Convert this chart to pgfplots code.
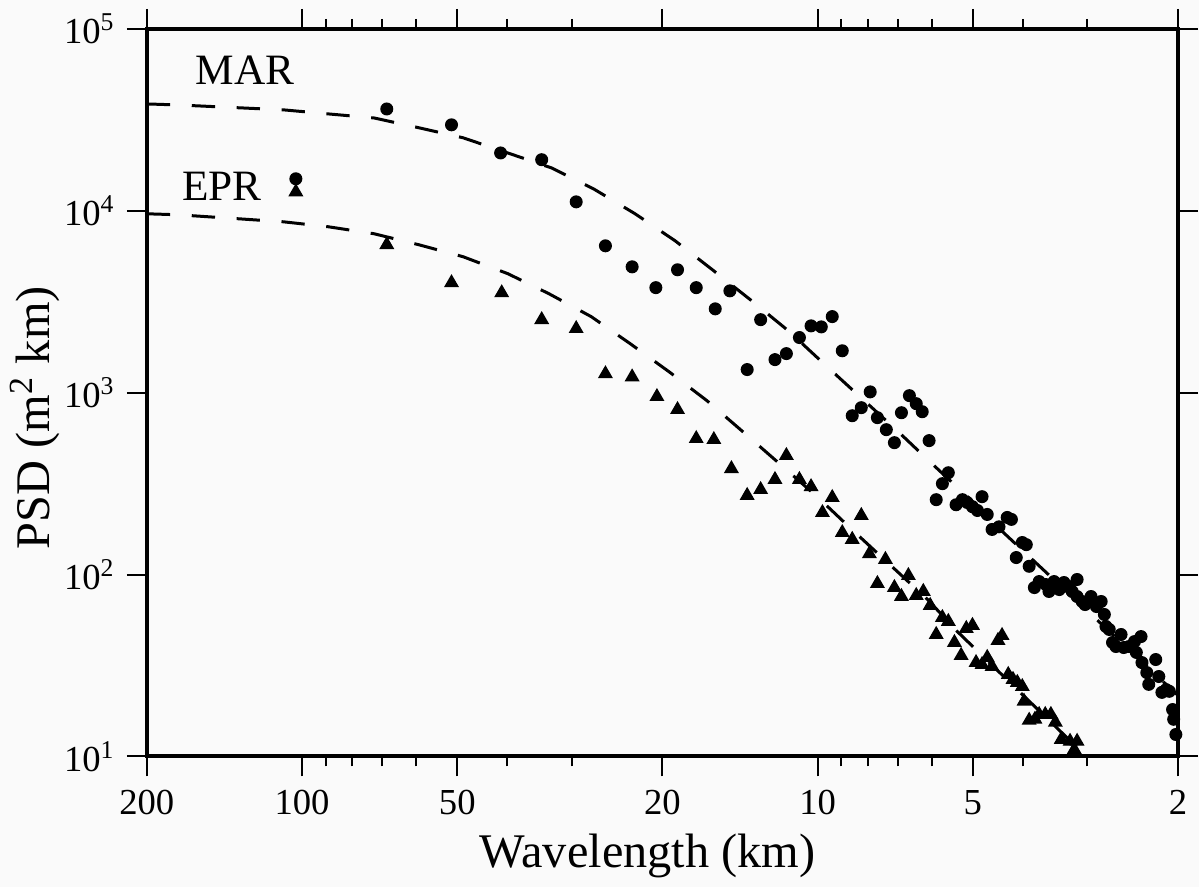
\documentclass[border=0pt]{standalone}
\usepackage{pgfplots}
\pgfplotsset{compat=1.18}
\usepackage{fontspec}
\setmainfont{Liberation Serif}
\usetikzlibrary{backgrounds}

\begin{document}
\begin{tikzpicture}[background rectangle/.style={fill=black!2, draw=none}, show background rectangle, inner frame sep=0pt]
\begin{axis}[
  scale only axis, width=309.6pt, height=218.4pt,
  xmode=log, ymode=log, x dir=reverse,
  xmin=2, xmax=200, ymin=10, ymax=100000,
  xtick={200,100,50,20,10,5,2},
  xticklabels={200,100,50,20,10,5,2},
  minor xtick={90,80,70,60,40,30,9,8,7,6,4,3},
  ytick={10,100,1000,10000,100000},
  yticklabels={10\textsuperscript{1},10\textsuperscript{2},10\textsuperscript{3},10\textsuperscript{4},10\textsuperscript{5}},
  yminorticks=false,
  tick align=outside,
  major tick length=6pt, minor tick length=3pt,
  every tick/.style={black, line width=0.6pt},
  axis line style={line width=1.2pt},
  tick label style={font=\fontsize{11}{13}\selectfont},
  xticklabel style={yshift=-3pt, inner sep=1pt},
  label style={font=\fontsize{14.5}{17}\selectfont, inner sep=1pt},
  xlabel={Wavelength (km)},
  ylabel={PSD (m\textsuperscript{2} km)},
  xlabel style={at={(axis description cs:0.4855,-0.1370)}, anchor=center},
  ylabel style={at={(axis description cs:-0.1085,0.4657)}, anchor=center},
  clip=false,
]
\path (axis description cs:-0.1424,-0.1799) rectangle (axis description cs:1.0194,1.0398);

% model curves
\addplot[black, line width=0.9pt, dash pattern=on 7pt off 6.5pt] coordinates {
(200,38700) (174,38200) (108.6,35900) (88.9,34100) (72.5,32400) (59.3,28600) (48.7,25200) (39.9,20800) (32.8,17200) (27.2,13200) (22.6,9630) (18.9,6840) (16.0,4740) (13.5,3240) (11.4,2190) (9.72,1440) (8.28,950) (7.05,627) (6.01,408) (5.10,265) (4.36,170) (3.75,114) (2.0,21.6)
};
\addplot[black, line width=0.9pt, dash pattern=on 7pt off 6.5pt] coordinates {
(200,9630) (174,9510) (132.8,9040) (108.6,8700) (88.9,8170) (72.5,7480) (59.4,6510) (48.7,5590) (39.9,4510) (33.2,3500) (27.5,2620) (23.1,1860) (19.4,1300) (16.4,904) (13.9,603) (11.8,402) (9.98,265) (8.55,175) (7.31,116) (6.12,72.9) (5.36,48.6) (4.05,22.5) (3.18,11.6) (3.11,10.3)
};

% MAR
\addplot[only marks, mark=*, mark size=1.75pt, black] coordinates {
(68.5,36300) (51.3,29700) (41.2,20800) (34.3,19100) (29.4,11200) (25.8,6420) (22.9,4920) (20.6,3780) (18.7,4740) (17.2,3780) (15.8,2890) (14.8,3630) (13.7,1340) (12.9,2520) (12.1,1520) (11.5,1640) (10.85,2010) (10.3,2330) (9.84,2300) (9.37,2620) (8.96,1700) (8.57,747) (8.23,827) (7.91,1010) (7.66,729) (7.36,626) (7.10,531) (6.88,776) (6.64,963) (6.44,870) (6.27,786) (6.08,545) (5.89,258) (5.73,316) (5.58,363) (5.39,242) (5.24,258) (5.13,249) (5.01,236) (4.90,225) (4.80,268) (4.69,214) (4.59,177) (4.45,183) (4.29,206) (4.21,201) (4.12,124) (4.01,150) (3.94,146) (3.89,111) (3.80,84.8) (3.72,91.5) (3.61,88.1) (3.56,80.7) (3.48,91.5) (3.40,82.7) (3.33,90.4) (3.25,85.9) (3.14,93.9) (3.21,80.7) (3.14,75.7) (3.07,71.1) (3.03,68.4) (2.95,75.7) (2.88,66.7) (2.82,71.1) (2.78,60.3) (2.76,51.8) (2.72,49.9) (2.68,42.3) (2.64,40.2) (2.58,46.8) (2.55,39.7) (2.49,40.2) (2.43,42.8) (2.36,45.6) (2.41,37.3) (2.35,32.8) (2.30,28.9) (2.28,24.9) (2.21,34.1) (2.18,27.5) (2.15,22.5) (2.11,23.3) (2.08,22.8) (2.05,18.1) (2.04,16.0) (2.02,13.2) (102.8,15000)
};

% EPR
\addplot[only marks, mark=triangle*, mark size=2.2pt, black] coordinates {
(68.5,6510) (51.3,4020) (41.0,3540) (34.3,2520) (29.4,2250) (25.8,1270) (22.9,1220) (20.5,951) (18.7,807) (17.2,559) (15.9,552) (14.7,382) (13.7,272) (12.9,293) (12.1,333) (11.5,451) (10.85,333) (10.3,304) (9.79,219) (9.37,265) (8.96,170) (8.57,156) (8.23,211) (7.94,130) (7.66,89.2) (7.39,121) (7.10,84.8) (6.88,75.7) (6.67,98.7) (6.44,76.7) (6.24,80.7) (6.05,67.6) (5.89,46.8) (5.73,58.0) (5.58,55.2) (5.43,42.3) (5.27,35.9) (5.15,50.5) (5.01,52.5) (4.93,32.8) (4.80,32.0) (4.69,35.0) (4.59,31.2) (4.47,43.4) (4.39,46.2) (4.27,28.2) (4.18,26.5) (4.10,25.5) (4.01,24.2) (3.98,20.1) (3.89,15.8) (3.79,16.0) (3.72,17.0) (3.62,17.0) (3.53,17.0) (3.46,15.4) (3.37,12.4) (3.24,12.1) (3.14,12.1) (3.18,10.9) (102.8,12700)
};

\node[font=\fontsize{13}{15}\selectfont] at (axis cs:129,59500) {MAR};
\node[font=\fontsize{13}{15}\selectfont] at (axis cs:143,13550) {EPR};
\end{axis}
\end{tikzpicture}
\end{document}
